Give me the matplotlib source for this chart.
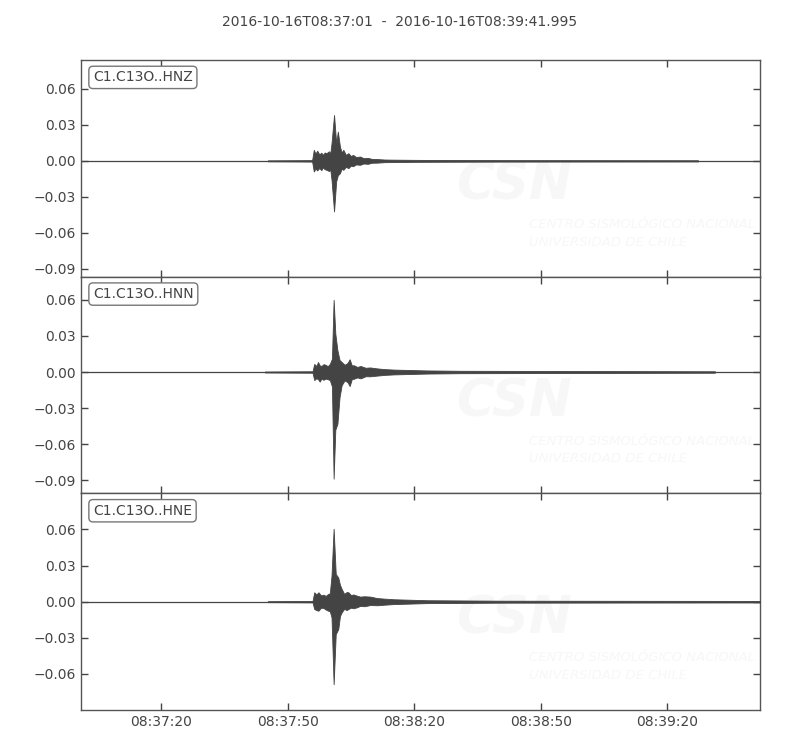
import matplotlib
matplotlib.use("Agg")
import matplotlib.pyplot as plt
import matplotlib.dates as mdates
from matplotlib.ticker import MultipleLocator
import numpy as np

# trace window (ObsPy style plot of three components)
start = np.datetime64("2016-10-16T08:37:01.000")
end = np.datetime64("2016-10-16T08:39:41.995")
title = "2016-10-16T08:37:01  -  2016-10-16T08:39:41.995"
labels = ["C1.C13O..HNZ", "C1.C13O..HNN", "C1.C13O..HNE"]

# envelopes: seconds after start, upper and lower amplitude
t_hnz = [44.3, 54.8, 55.2, 55.6, 56.0, 56.5, 57.0, 57.3, 57.8, 58.2, 58.8, 59.1, 59.4, 60.0, 60.5, 60.9, 61.4,
         61.8, 62.2, 62.8, 63.4, 64.0, 64.5, 65.2, 66.2, 67.0, 68.0, 69.0, 70.2, 72.0, 74.0, 80.0, 100.0, 146.3]
hi_hnz = [0.0004, 0.0006, 0.0092, 0.0060, 0.0085, 0.0055, 0.0068, 0.0050, 0.0070, 0.0064, 0.0080, 0.0060, 0.0147,
          0.0383, 0.0150, 0.0244, 0.0119, 0.0070, 0.0092, 0.0050, 0.0064, 0.0040, 0.0050, 0.0032, 0.0036,
          0.0022, 0.0025, 0.0016, 0.0015, 0.0011, 0.0010, 0.0008, 0.0006, 0.0005]
lo_hnz = [-0.0004, -0.0006, -0.0089, -0.0065, -0.0080, -0.0060, -0.0078, -0.0055, -0.0070, -0.0075, -0.0085, -0.0070,
          -0.0158, -0.0422, -0.0172, -0.0120, -0.0103, -0.0065, -0.0075, -0.0050, -0.0061, -0.0040, -0.0045,
          -0.0030, -0.0033, -0.0022, -0.0025, -0.0016, -0.0015, -0.0011, -0.0010, -0.0008, -0.0006, -0.0005]

t_hnn = [43.6, 54.9, 55.3, 55.8, 56.2, 56.6, 57.0, 57.5, 58.0, 58.5, 59.0, 59.5, 59.9, 60.3, 60.8, 61.3, 61.8,
         62.5, 63.2, 63.7, 64.2, 64.7, 65.5, 66.3, 67.5, 68.5, 70.2, 72.0, 74.2, 82.0, 90.0, 150.3]
hi_hnn = [0.0004, 0.0006, 0.0067, 0.0050, 0.0083, 0.0055, 0.0050, 0.0065, 0.0060, 0.0048, 0.0067, 0.0110,
          0.0600, 0.0320, 0.0180, 0.0100, 0.0083, 0.0060, 0.0075, 0.0106, 0.0055, 0.0056, 0.0042, 0.0050,
          0.0035, 0.0038, 0.0030, 0.0024, 0.0020, 0.0013, 0.0010, 0.0006]
lo_hnn = [-0.0004, -0.0006, -0.0067, -0.0052, -0.0060, -0.0080, -0.0055, -0.0065, -0.0055, -0.0060, -0.0067,
          -0.0120, -0.0886, -0.0480, -0.0430, -0.0210, -0.0110, -0.0070, -0.0085, -0.0117, -0.0060, -0.0056,
          -0.0045, -0.0053, -0.0035, -0.0036, -0.0030, -0.0024, -0.0020, -0.0013, -0.0010, -0.0006]

t_hne = [44.3, 54.9, 55.3, 55.8, 56.3, 56.9, 57.5, 58.0, 58.6, 59.0, 59.4, 59.9, 60.4, 61.0, 61.4, 61.8,
         62.4, 63.0, 63.4, 64.0, 64.6, 65.4, 66.2, 67.2, 68.6, 70.2, 72.0, 74.2, 82.0, 100.0, 161.0]
hi_hne = [0.0004, 0.0006, 0.0078, 0.0060, 0.0078, 0.0052, 0.0058, 0.0048, 0.0064, 0.0070, 0.0217, 0.0606,
          0.0230, 0.0200, 0.0140, 0.0106, 0.0065, 0.0080, 0.0078, 0.0055, 0.0060, 0.0050, 0.0042, 0.0045,
          0.0042, 0.0030, 0.0025, 0.0020, 0.0012, 0.0008, 0.0006]
lo_hne = [-0.0004, -0.0006, -0.0061, -0.0070, -0.0075, -0.0050, -0.0053, -0.0065, -0.0075, -0.0080, -0.0130,
          -0.0686, -0.0270, -0.0228, -0.0120, -0.0089, -0.0060, -0.0070, -0.0061, -0.0050, -0.0055, -0.0047,
          -0.0035, -0.0038, -0.0028, -0.0030, -0.0025, -0.0020, -0.0012, -0.0008, -0.0006]

ylims = [(-0.0967, 0.0842), (-0.1008, 0.0792), (-0.08995, 0.08995)]

traces = [(t_hnz, hi_hnz, lo_hnz), (t_hnn, hi_hnn, lo_hnn), (t_hne, hi_hne, lo_hne)]

grey = "#444444"
plt.rcParams["font.family"] = "DejaVu Sans"
plt.rcParams["font.size"] = 10
plt.rcParams["text.color"] = grey

def to_time(sec):
    return start + (np.array(sec) * 1000).astype("timedelta64[ms]")

fig, axes = plt.subplots(3, 1, figsize=(8, 7.5), dpi=100, sharex=True)
fig.subplots_adjust(left=0.10125, right=0.95, top=0.92, bottom=0.05333, hspace=0)

for ax, (t, hi, lo), lab, yl in zip(axes, traces, labels, ylims):
    # faint watermark
    ax.text(0.552, 0.42, "CSN", transform=ax.transAxes, fontsize=37, fontweight="bold",
            style="italic", color="#f7f7f7", va="center", ha="left", zorder=0)
    ax.text(0.66, 0.2, "CENTRO SISMOLÓGICO NACIONAL\nUNIVERSIDAD DE CHILE", transform=ax.transAxes,
            fontsize=9.5, style="italic", color="#f7f7f7", va="center", ha="left",
            linespacing=1.45, zorder=0)

    ax.plot([start, end], [0, 0], color=grey, lw=0.9, zorder=2)
    tt = to_time(t)
    ax.fill_between(tt, lo, hi, color=grey, lw=0.6, edgecolor=grey, zorder=3)

    ax.set_xlim(start, end)
    ax.set_ylim(*yl)
    ax.yaxis.set_major_locator(MultipleLocator(0.03))
    ax.tick_params(direction="in", top=True, right=True, colors=grey, labelcolor=grey,
                   length=5, width=1)
    for s in ax.spines.values():
        s.set_color("#555555")
        s.set_linewidth(1.0)
    ax.text(0.0177, 0.952, lab, transform=ax.transAxes, va="top", ha="left", fontsize=10,
            color=grey, zorder=5,
            bbox=dict(boxstyle="round,pad=0.3", fc="white", ec="#777777", lw=1))

axes[-1].xaxis.set_major_locator(mdates.SecondLocator(bysecond=[20, 50]))
axes[-1].xaxis.set_major_formatter(mdates.DateFormatter("%H:%M:%S"))

fig.suptitle(title, y=0.98, fontsize=10, color=grey)

plt.savefig("out.png")
